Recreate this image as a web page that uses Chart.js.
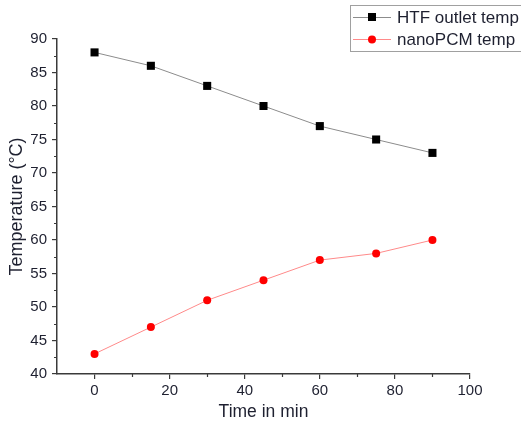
<!DOCTYPE html>
<html>
<head>
<meta charset="utf-8">
<script src="https://cdn.jsdelivr.net/npm/chart.js@4"></script>
<style>
  html, body { margin: 0; padding: 0; background: #fff; }
  #wrap { width: 521px; height: 429px; position: relative; }
</style>
</head>
<body>
<div id="wrap"><canvas id="tempChart" width="521" height="429"></canvas></div>
<script>
// time (min)
const timeMin = [0, 15, 30, 45, 60, 75, 90];
const htfOutlet = [88, 86, 83, 80, 77, 75, 73];
const nanoPcm = [43, 47, 51, 54, 57, 58, 60];

const xTicks = [0, 20, 40, 60, 80, 100];
const xMinorTicks = [10, 30, 50, 70, 90];
const yTicks = [40, 45, 50, 55, 60, 65, 70, 75, 80, 85, 90];
const yMinorTicks = [42.5, 47.5, 52.5, 57.5, 62.5, 67.5, 72.5, 77.5, 82.5, 87.5];

const FONT = "'Liberation Sans', Arial, sans-serif";
const AXIS = '#3a3a3a';
const TEXT = '#1e2030';

// minor ticks drawn outside the axes
const minorTicks = {
  id: 'minorTicks',
  afterDraw(chart) {
    const { ctx, chartArea: a, scales } = chart;
    ctx.save();
    ctx.strokeStyle = AXIS;
    ctx.lineWidth = 1.2;
    ctx.beginPath();
    xMinorTicks.forEach(v => {
      const px = Math.round(scales.x.getPixelForValue(v)) + 0.5;
      ctx.moveTo(px, a.bottom);
      ctx.lineTo(px, a.bottom + 3);
    });
    yMinorTicks.forEach(v => {
      const py = Math.round(scales.y.getPixelForValue(v)) + 0.5;
      ctx.moveTo(a.left, py);
      ctx.lineTo(a.left - 3, py);
    });
    ctx.stroke();
    ctx.restore();
  }
};

// boxed legend at top right, line + marker symbols
const boxLegend = {
  id: 'boxLegend',
  afterDraw(chart) {
    const { ctx } = chart;
    const rows = chart.data.datasets;
    ctx.save();
    ctx.fillStyle = '#fff';
    ctx.fillRect(350.5, 5.5, 180, 46);
    ctx.strokeStyle = '#a0a0a0';
    ctx.lineWidth = 1;
    ctx.strokeRect(350.5, 5.5, 180, 46);
    rows.forEach((ds, i) => {
      const y = 17 + i * 22;
      ctx.strokeStyle = ds.borderColor;
      ctx.lineWidth = 1;
      ctx.beginPath();
      ctx.moveTo(353, y + 0.5);
      ctx.lineTo(391, y + 0.5);
      ctx.stroke();
      ctx.fillStyle = ds.pointBackgroundColor;
      if (ds.pointStyle === 'rect') {
        ctx.fillRect(368, y - 4, 8, 8);
      } else {
        ctx.beginPath();
        ctx.arc(372, y + 0.5, 4, 0, Math.PI * 2);
        ctx.fill();
      }
      ctx.fillStyle = TEXT;
      ctx.font = '17px ' + FONT;
      ctx.textBaseline = 'middle';
      ctx.fillText(ds.label, 397, y + 1);
    });
    ctx.restore();
  }
};

new Chart(document.getElementById('tempChart').getContext('2d'), {
  type: 'line',
  data: {
    datasets: [
      {
        label: 'HTF outlet temp',
        data: timeMin.map((t, i) => ({ x: t, y: htfOutlet[i] })),
        borderColor: '#8c8c8c',
        borderWidth: 1,
        pointStyle: 'rect',
        pointRadius: 5.7,
        pointBackgroundColor: '#000',
        pointBorderWidth: 0,
        tension: 0,
      },
      {
        label: 'nanoPCM temp',
        data: timeMin.map((t, i) => ({ x: t, y: nanoPcm[i] })),
        borderColor: '#ff8a8a',
        borderWidth: 1,
        pointStyle: 'circle',
        pointRadius: 4,
        pointBackgroundColor: '#ff0000',
        pointBorderWidth: 0,
        tension: 0,
      },
    ],
  },
  options: {
    responsive: false,
    animation: false,
    layout: { padding: { top: 39, right: 51, left: 0, bottom: 0 } },
    plugins: {
      legend: { display: false },
      tooltip: { enabled: false },
    },
    scales: {
      x: {
        type: 'linear',
        min: -10,
        max: 100,
        afterBuildTicks: s => { s.ticks = xTicks.map(v => ({ value: v })); },
        afterFit: s => { s.height = 55; },
        border: { color: AXIS, width: 1.5 },
        grid: { drawOnChartArea: false, drawTicks: true, tickLength: 5, color: AXIS, lineWidth: 1.2 },
        ticks: { color: TEXT, font: { family: FONT, size: 15 }, padding: 3, maxRotation: 0 },
        title: {
          display: true,
          text: 'Time in min',
          color: TEXT,
          font: { family: FONT, size: 17.5 },
          padding: { top: 0, bottom: 6 },
        },
      },
      y: {
        type: 'linear',
        min: 40,
        max: 90,
        afterBuildTicks: s => { s.ticks = yTicks.map(v => ({ value: v })); },
        afterFit: s => { s.width = 57; },
        border: { color: AXIS, width: 1.5 },
        grid: { drawOnChartArea: false, drawTicks: true, tickLength: 5, color: AXIS, lineWidth: 1.2 },
        ticks: { color: TEXT, font: { family: FONT, size: 15 }, padding: 5 },
        title: {
          display: true,
          text: 'Temperature (°C)',
          color: TEXT,
          font: { family: FONT, size: 18 },
          padding: { top: 6, bottom: 0 },
        },
      },
    },
  },
  plugins: [minorTicks, boxLegend],
});
</script>
</body>
</html>
